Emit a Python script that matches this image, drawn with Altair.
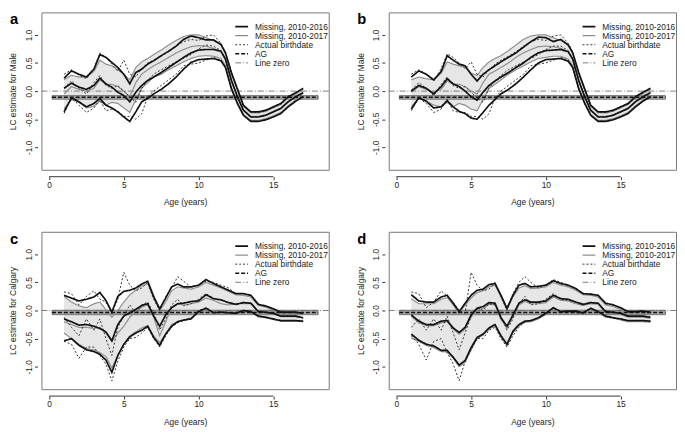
import altair as alt
import pandas as pd

SERIES = ["Missing, 2010-2016", "Missing, 2010-2017", "Actual birthdate", "AG", "Line zero"]
AG_X = [0.2, 18.0]

AGES_AB = [1, 1.5, 2, 2.5, 3, 3.4, 3.8, 4.2, 4.6, 5.0, 5.4, 5.8, 6.2, 6.6, 7, 7.5, 8, 8.5, 9, 9.5,
           10, 10.5, 11, 11.5, 11.8, 12.2, 12.6, 13, 13.5, 14, 14.5, 15, 15.5, 16, 16.5, 17]
AGES_CD = [1, 1.5, 2, 2.5, 3, 3.4, 3.8, 4.2, 4.6, 5.0, 5.4, 5.8, 6.2, 6.6, 7, 7.4, 7.8, 8.2, 8.6, 9,
           9.5, 10, 10.5, 11, 11.5, 12, 12.5, 13, 13.5, 14, 14.5, 15, 15.5, 16, 16.5, 17]

# ---- panel a (Male) ----
A_M16_HI = [0.23, 0.36, 0.30, 0.25, 0.39, 0.65, 0.60, 0.51, 0.42, 0.30, 0.13, 0.33, 0.39, 0.48, 0.54, 0.63, 0.71, 0.80, 0.92, 0.98,
            0.95, 0.91, 0.91, 0.83, 0.68, 0.33, 0.04, -0.25, -0.37, -0.37, -0.34, -0.28, -0.22, -0.10, -0.03, 0.05]
A_M16_MID = [0.05, 0.14, 0.07, 0.03, 0.10, 0.23, 0.13, 0.07, -0.02, -0.08, -0.19, -0.02, 0.10, 0.19, 0.25, 0.33, 0.42, 0.51, 0.60, 0.68,
             0.73, 0.74, 0.74, 0.71, 0.57, 0.19, -0.10, -0.34, -0.46, -0.46, -0.43, -0.37, -0.31, -0.19, -0.10, -0.03]
A_M16_LO = [-0.37, -0.12, -0.19, -0.28, -0.22, -0.13, -0.25, -0.30, -0.37, -0.46, -0.54, -0.37, -0.19, -0.13, -0.05, 0.03, 0.13, 0.25, 0.39, 0.51,
            0.56, 0.57, 0.58, 0.54, 0.42, 0.04, -0.22, -0.43, -0.54, -0.54, -0.51, -0.46, -0.40, -0.28, -0.18, -0.10]
A_M17_HI = [0.20, 0.28, 0.25, 0.25, 0.35, 0.55, 0.48, 0.45, 0.38, 0.30, 0.20, 0.42, 0.52, 0.58, 0.65, 0.73, 0.82, 0.90, 0.97, 1.00,
            1.00, 0.95, 0.90, 0.82, 0.68, 0.30, 0.02, -0.27, -0.39, -0.39, -0.36, -0.30, -0.24, -0.12, -0.05, 0.03]
A_M17_MID = [-0.05, 0.08, 0.03, 0.00, 0.05, 0.20, 0.12, 0.12, 0.08, 0.00, -0.10, 0.15, 0.30, 0.38, 0.45, 0.52, 0.60, 0.68, 0.74, 0.79,
             0.81, 0.80, 0.76, 0.70, 0.56, 0.18, -0.09, -0.33, -0.45, -0.45, -0.42, -0.36, -0.30, -0.18, -0.09, -0.02]
A_M17_LO = [-0.32, -0.15, -0.20, -0.30, -0.27, -0.18, -0.25, -0.20, -0.22, -0.30, -0.38, -0.15, 0.05, 0.15, 0.25, 0.30, 0.38, 0.45, 0.52, 0.58,
            0.62, 0.63, 0.62, 0.58, 0.45, 0.06, -0.20, -0.41, -0.52, -0.52, -0.49, -0.44, -0.38, -0.26, -0.16, -0.08]
A_AB_HI = [0.30, 0.38, 0.28, 0.22, 0.40, 0.68, 0.60, 0.48, 0.35, 0.55, 0.30, 0.25, 0.40, 0.50, 0.55, 0.62, 0.70, 0.80, 0.88, 0.92,
           0.90, 0.98, 1.00, 0.85, 0.70, 0.33, 0.03, -0.26, -0.37, -0.38, -0.35, -0.29, -0.23, -0.10, -0.03, 0.05]
A_AB_MID = [0.05, 0.18, 0.05, -0.05, 0.15, 0.28, 0.10, 0.05, 0.10, 0.00, -0.10, -0.20, 0.05, 0.20, 0.30, 0.38, 0.45, 0.52, 0.58, 0.65,
            0.75, 0.82, 0.80, 0.72, 0.56, 0.19, -0.10, -0.34, -0.46, -0.46, -0.43, -0.37, -0.31, -0.19, -0.10, -0.03]
A_AB_LO = [-0.40, -0.12, -0.25, -0.38, -0.30, -0.15, -0.35, -0.32, -0.35, -0.45, -0.45, -0.50, -0.40, -0.10, 0.00, 0.10, 0.20, 0.30, 0.45, 0.48,
           0.50, 0.55, 0.60, 0.55, 0.42, 0.04, -0.22, -0.43, -0.54, -0.54, -0.51, -0.46, -0.40, -0.28, -0.18, -0.10]
A_AG = [-0.11, -0.145, -0.08]

# ---- panel b (Male) ----
B_M16_HI = [0.25, 0.36, 0.30, 0.20, 0.35, 0.63, 0.55, 0.48, 0.45, 0.30, 0.18, 0.30, 0.38, 0.45, 0.52, 0.60, 0.68, 0.78, 0.88, 0.96,
            0.95, 0.88, 0.92, 0.82, 0.68, 0.33, 0.04, -0.25, -0.37, -0.37, -0.34, -0.28, -0.22, -0.10, -0.02, 0.05]
B_M16_MID = [0.00, 0.10, 0.05, -0.05, 0.08, 0.22, 0.13, 0.08, 0.00, -0.10, -0.16, -0.02, 0.10, 0.18, 0.25, 0.33, 0.42, 0.50, 0.60, 0.68,
             0.72, 0.73, 0.74, 0.70, 0.57, 0.19, -0.10, -0.34, -0.46, -0.46, -0.43, -0.37, -0.31, -0.19, -0.10, -0.03]
B_M16_LO = [-0.32, -0.12, -0.18, -0.30, -0.28, -0.17, -0.28, -0.36, -0.40, -0.48, -0.50, -0.38, -0.25, -0.15, -0.05, 0.03, 0.13, 0.25, 0.38, 0.50,
            0.56, 0.57, 0.58, 0.53, 0.42, 0.04, -0.22, -0.43, -0.54, -0.54, -0.51, -0.46, -0.40, -0.28, -0.18, -0.10]
B_M17_HI = [0.20, 0.25, 0.22, 0.20, 0.32, 0.52, 0.48, 0.45, 0.42, 0.32, 0.28, 0.42, 0.52, 0.58, 0.63, 0.72, 0.82, 0.92, 0.98, 1.00,
            1.00, 0.95, 0.90, 0.82, 0.68, 0.30, 0.02, -0.27, -0.39, -0.39, -0.36, -0.30, -0.24, -0.12, -0.05, 0.03]
B_M17_MID = [-0.02, 0.08, 0.03, -0.02, 0.03, 0.18, 0.12, 0.12, 0.08, 0.00, -0.05, 0.15, 0.30, 0.36, 0.42, 0.50, 0.60, 0.68, 0.74, 0.79,
             0.80, 0.79, 0.76, 0.70, 0.56, 0.18, -0.09, -0.33, -0.45, -0.45, -0.42, -0.36, -0.30, -0.18, -0.09, -0.02]
B_M17_LO = [-0.28, -0.12, -0.18, -0.25, -0.28, -0.20, -0.28, -0.22, -0.25, -0.32, -0.35, -0.15, 0.05, 0.12, 0.20, 0.30, 0.38, 0.45, 0.52, 0.58,
            0.60, 0.62, 0.62, 0.57, 0.45, 0.06, -0.20, -0.41, -0.52, -0.52, -0.49, -0.44, -0.38, -0.26, -0.16, -0.08]
B_AB_HI = [0.30, 0.38, 0.30, 0.18, 0.40, 0.66, 0.60, 0.50, 0.40, 0.52, 0.30, 0.25, 0.38, 0.48, 0.55, 0.62, 0.70, 0.80, 0.88, 0.92,
           0.90, 0.98, 1.00, 0.85, 0.70, 0.33, 0.03, -0.26, -0.37, -0.38, -0.35, -0.29, -0.23, -0.10, -0.03, 0.05]
B_AB_MID = [0.02, 0.15, 0.05, -0.08, 0.12, 0.25, 0.10, 0.05, 0.08, -0.02, -0.12, -0.20, 0.05, 0.18, 0.28, 0.38, 0.45, 0.52, 0.58, 0.65,
            0.74, 0.80, 0.80, 0.72, 0.56, 0.19, -0.10, -0.34, -0.46, -0.46, -0.43, -0.37, -0.31, -0.19, -0.10, -0.03]
B_AB_LO = [-0.35, -0.12, -0.22, -0.38, -0.32, -0.15, -0.35, -0.38, -0.38, -0.45, -0.45, -0.50, -0.40, -0.12, 0.00, 0.10, 0.20, 0.30, 0.45, 0.48,
           0.50, 0.55, 0.60, 0.55, 0.42, 0.04, -0.22, -0.43, -0.54, -0.54, -0.51, -0.46, -0.40, -0.28, -0.18, -0.10]
B_AG = [-0.11, -0.145, -0.08]

# ---- panel c (Calgary) ----
C_M16_HI = [0.27, 0.22, 0.17, 0.20, 0.24, 0.32, 0.18, -0.03, 0.25, 0.34, 0.36, 0.40, 0.47, 0.52, 0.25, 0.03, 0.22, 0.42, 0.47, 0.42,
            0.42, 0.45, 0.55, 0.48, 0.42, 0.36, 0.30, 0.30, 0.27, 0.11, 0.08, 0.03, -0.03, -0.03, -0.03, -0.05]
C_M16_MID = [-0.15, -0.20, -0.26, -0.25, -0.28, -0.32, -0.38, -0.54, -0.25, -0.10, -0.04, 0.02, 0.09, 0.12, -0.10, -0.28, -0.08, 0.05, 0.12, 0.13,
             0.16, 0.17, 0.28, 0.21, 0.19, 0.14, 0.11, 0.14, 0.13, -0.02, -0.03, -0.05, -0.10, -0.10, -0.10, -0.13]
C_M16_LO = [-0.54, -0.50, -0.62, -0.70, -0.73, -0.78, -0.88, -1.10, -0.80, -0.60, -0.47, -0.40, -0.35, -0.28, -0.48, -0.62, -0.42, -0.28, -0.20, -0.17,
            -0.15, -0.02, 0.04, -0.04, -0.03, -0.04, -0.05, 0.00, -0.02, -0.10, -0.12, -0.15, -0.18, -0.18, -0.18, -0.19]
C_M17_HI = [0.25, 0.15, 0.08, 0.05, 0.12, 0.15, 0.02, -0.12, 0.00, 0.15, 0.28, 0.36, 0.44, 0.48, 0.22, 0.00, 0.15, 0.35, 0.42, 0.40,
            0.38, 0.42, 0.50, 0.45, 0.40, 0.34, 0.28, 0.27, 0.24, 0.09, 0.06, 0.01, -0.05, -0.05, -0.05, -0.07]
C_M17_MID = [-0.20, -0.25, -0.30, -0.30, -0.32, -0.30, -0.40, -0.55, -0.40, -0.28, -0.12, -0.02, 0.06, 0.10, -0.12, -0.45, -0.20, 0.05, 0.12, 0.10,
             0.12, 0.15, 0.22, 0.18, 0.12, 0.10, 0.12, 0.12, 0.12, -0.03, -0.04, -0.06, -0.11, -0.11, -0.11, -0.13]
C_M17_LO = [-0.40, -0.50, -0.60, -0.68, -0.70, -0.75, -0.82, -1.02, -0.80, -0.60, -0.45, -0.38, -0.31, -0.27, -0.45, -0.57, -0.42, -0.25, -0.20, -0.17,
            -0.13, -0.03, 0.01, -0.04, -0.03, -0.03, -0.05, -0.02, -0.03, -0.11, -0.13, -0.16, -0.19, -0.19, -0.19, -0.20]
C_AB_HI = [0.33, 0.30, 0.10, 0.25, 0.35, 0.20, 0.15, -0.05, 0.20, 0.68, 0.45, 0.35, 0.40, 0.50, 0.20, 0.00, 0.25, 0.40, 0.60, 0.52,
           0.42, 0.45, 0.52, 0.50, 0.45, 0.40, 0.30, 0.30, 0.27, 0.10, 0.08, 0.03, -0.03, -0.03, -0.03, -0.05]
C_AB_MID = [-0.12, -0.30, -0.45, -0.15, -0.35, -0.15, -0.50, -0.80, -0.30, -0.10, 0.10, -0.05, 0.10, 0.15, -0.05, -0.35, -0.15, 0.10, 0.20, 0.08,
            0.12, 0.20, 0.30, 0.22, 0.18, 0.15, 0.10, 0.14, 0.13, -0.02, -0.03, -0.05, -0.10, -0.10, -0.10, -0.13]
C_AB_LO = [-0.55, -0.60, -0.85, -0.65, -0.65, -0.80, -0.95, -1.25, -0.90, -0.65, -0.50, -0.48, -0.40, -0.30, -0.50, -0.65, -0.45, -0.30, -0.22, -0.18,
           -0.15, 0.00, 0.05, -0.03, -0.03, -0.04, -0.05, 0.00, -0.02, -0.10, -0.12, -0.15, -0.18, -0.18, -0.18, -0.19]
C_AG = [-0.035, -0.075, 0.005]

# ---- panel d (Calgary) ----
D_M16_HI = [0.28, 0.17, 0.15, 0.15, 0.24, 0.27, 0.13, -0.02, 0.13, 0.27, 0.36, 0.38, 0.46, 0.48, 0.27, 0.04, 0.27, 0.45, 0.48, 0.42,
            0.43, 0.45, 0.53, 0.48, 0.45, 0.39, 0.30, 0.29, 0.27, 0.13, 0.10, 0.05, -0.02, -0.02, -0.01, -0.03]
D_M16_MID = [-0.08, -0.19, -0.25, -0.25, -0.19, -0.18, -0.31, -0.39, -0.30, -0.08, 0.04, 0.07, 0.14, 0.13, -0.13, -0.28, -0.08, 0.13, 0.19, 0.15,
             0.15, 0.17, 0.27, 0.21, 0.20, 0.15, 0.11, 0.14, 0.13, -0.02, -0.03, -0.05, -0.10, -0.10, -0.10, -0.12]
D_M16_LO = [-0.42, -0.53, -0.60, -0.63, -0.71, -0.71, -0.83, -0.97, -0.89, -0.66, -0.48, -0.42, -0.31, -0.25, -0.45, -0.60, -0.37, -0.25, -0.19, -0.18,
            -0.13, -0.05, 0.05, -0.02, -0.01, -0.01, -0.04, 0.04, -0.02, -0.10, -0.13, -0.15, -0.18, -0.18, -0.18, -0.19]
D_M17_HI = [0.21, 0.12, 0.12, 0.12, 0.20, 0.23, 0.10, -0.05, 0.10, 0.22, 0.32, 0.35, 0.42, 0.45, 0.24, 0.01, 0.24, 0.40, 0.44, 0.39,
            0.40, 0.42, 0.50, 0.45, 0.42, 0.36, 0.28, 0.27, 0.24, 0.10, 0.07, 0.02, -0.04, -0.04, -0.04, -0.06]
D_M17_MID = [-0.10, -0.22, -0.27, -0.27, -0.22, -0.20, -0.33, -0.42, -0.33, -0.12, 0.01, 0.04, 0.11, 0.10, -0.16, -0.31, -0.11, 0.10, 0.16, 0.12,
             0.12, 0.14, 0.24, 0.18, 0.17, 0.12, 0.09, 0.12, 0.11, -0.04, -0.05, -0.07, -0.12, -0.12, -0.12, -0.14]
D_M17_LO = [-0.49, -0.55, -0.62, -0.66, -0.73, -0.74, -0.85, -1.00, -0.92, -0.70, -0.50, -0.44, -0.33, -0.27, -0.47, -0.62, -0.40, -0.27, -0.21, -0.20,
            -0.15, -0.07, 0.03, -0.04, -0.04, -0.04, -0.07, 0.02, -0.04, -0.12, -0.13, -0.17, -0.20, -0.20, -0.20, -0.21]
D_AB_HI = [0.33, 0.30, 0.05, 0.15, 0.35, 0.25, 0.15, 0.00, -0.05, 0.68, 0.45, 0.35, 0.38, 0.50, 0.25, 0.00, 0.30, 0.50, 0.60, 0.50,
           0.40, 0.45, 0.55, 0.50, 0.45, 0.40, 0.30, 0.30, 0.27, 0.12, 0.10, 0.05, -0.02, -0.02, -0.02, -0.04]
D_AB_MID = [-0.30, -0.15, -0.35, -0.15, -0.35, -0.10, -0.40, -0.70, -0.40, -0.10, 0.05, 0.00, 0.12, 0.10, -0.10, -0.35, -0.15, 0.12, 0.25, 0.10,
            0.12, 0.20, 0.30, 0.20, 0.18, 0.15, 0.10, 0.14, 0.13, -0.02, -0.03, -0.05, -0.10, -0.10, -0.10, -0.12]
D_AB_LO = [-0.45, -0.60, -0.88, -0.55, -0.50, -0.75, -0.95, -1.25, -0.90, -0.70, -0.50, -0.50, -0.35, -0.30, -0.50, -0.65, -0.45, -0.30, -0.20, -0.18,
           -0.13, -0.04, 0.05, -0.02, -0.02, -0.03, -0.06, 0.03, -0.02, -0.10, -0.12, -0.15, -0.18, -0.18, -0.18, -0.19]
D_AG = [-0.035, -0.075, 0.005]

FONT = "Liberation Sans"
W, H = 292, 160
XDOM = [-0.51, 18.71]
YDOM = [-1.4, 1.4]

COLORS = ["#111111", "#8f8f8f", "#333333", "#111111", "#6f6f6f"]
DASHES = [[1, 0], [1, 0], [2, 2], [4, 2], [6, 2, 1, 2]]
WIDTHS = [1.7, 1.2, 1.0, 1.6, 0.9]


def panel(letter, ytitle, ages, m16, m17, ab, ag):
    rows = []
    for name, trip in [(SERIES[1], m17), (SERIES[2], ab), (SERIES[0], m16)]:
        for part, vals in zip(["hi", "mid", "lo"], trip):
            for a, v in zip(ages, vals):
                rows.append({"age": a, "value": v, "series": name, "key": name + part})
    lines = pd.DataFrame(rows)
    band = pd.DataFrame({"age": ages, "lo": m17[2], "hi": m17[0]})
    agline = pd.DataFrame({"age": AG_X, "value": [ag[0]] * 2, "series": ["AG"] * 2})
    agband = pd.DataFrame({"x0": [AG_X[0]], "x1": [AG_X[1]], "lo": [ag[1]], "hi": [ag[2]]})
    zero = pd.DataFrame({"value": [0.0], "series": ["Line zero"]})
    axline = pd.DataFrame({"x0": [0.0], "x1": [15.0]})
    lab = pd.DataFrame({"t": [letter]})

    xscale = alt.Scale(domain=XDOM, nice=False, zero=False)
    yscale = alt.Scale(domain=YDOM, nice=False, zero=False)
    xaxis = alt.Axis(values=[0, 5, 10, 15], domain=False, tickSize=3, offset=7, labelPadding=1,
                     titlePadding=9, labelFlush=False)
    yaxis = alt.Axis(values=[-1, -0.5, 0, 0.5, 1], domain=False, tickSize=3, offset=4, labelPadding=1,
                     labelAngle=-90, titlePadding=7,
                     labelExpr="replace(format(datum.value, '.1f'), '\u2212', '-')")
    X = lambda f: alt.X(f, type="quantitative", scale=xscale, axis=xaxis, title="Age (years)")
    Y = lambda f: alt.Y(f, type="quantitative", scale=yscale, axis=yaxis, title=ytitle)

    leg = alt.Legend(orient="none", legendX=196, legendY=10, title=None, symbolType="stroke",
                     symbolSize=169, labelFontSize=8.5, labelFont=FONT, labelColor="#222",
                     rowPadding=0.2, clipHeight=9, labelOffset=6, padding=0)
    color = alt.Color("series:N", scale=alt.Scale(domain=SERIES, range=COLORS), legend=leg)
    dash = alt.StrokeDash("series:N", scale=alt.Scale(domain=SERIES, range=DASHES), legend=leg)
    sw = alt.StrokeWidth("series:N", scale=alt.Scale(type="ordinal", domain=SERIES, range=WIDTHS), legend=leg)

    area = alt.Chart(band).mark_area(color="#e6e6e6", opacity=1).encode(x=X("age"), y=Y("lo"), y2="hi")
    agr = alt.Chart(agband).mark_rect(fill="#a8a8a8", stroke="#555555", strokeWidth=0.7).encode(
        x=X("x0"), x2="x1", y=Y("lo"), y2="hi")
    zr = alt.Chart(zero).mark_rule().encode(y=Y("value"), color=color, strokeDash=dash, strokeWidth=sw)
    ln = alt.Chart(lines).mark_line().encode(x=X("age"), y=Y("value"), color=color, strokeDash=dash,
                                             strokeWidth=sw, detail="key:N")
    agl = alt.Chart(agline).mark_line().encode(x=X("age"), y=Y("value"), color=color, strokeDash=dash,
                                               strokeWidth=sw)
    axl = alt.Chart(axline).mark_rule(color="#333", strokeWidth=1).encode(
        x=X("x0"), x2="x1", y=alt.value(H + 7))
    txt = alt.Chart(lab).mark_text(align="left", baseline="top", fontSize=15, fontWeight="bold",
                                   font=FONT, color="#000").encode(text="t:N", x=alt.value(-32), y=alt.value(0))
    return alt.layer(area, agr, zr, ln, agl, axl, txt).properties(width=W, height=H)


pa = panel("a", "LC estimate for Male", AGES_AB,
           [A_M16_HI, A_M16_MID, A_M16_LO], [A_M17_HI, A_M17_MID, A_M17_LO], [A_AB_HI, A_AB_MID, A_AB_LO], A_AG)
pb = panel("b", "LC estimate for Male", AGES_AB,
           [B_M16_HI, B_M16_MID, B_M16_LO], [B_M17_HI, B_M17_MID, B_M17_LO], [B_AB_HI, B_AB_MID, B_AB_LO], B_AG)
pc = panel("c", "LC estimate for Calgary", AGES_CD,
           [C_M16_HI, C_M16_MID, C_M16_LO], [C_M17_HI, C_M17_MID, C_M17_LO], [C_AB_HI, C_AB_MID, C_AB_LO], C_AG)
pd_ = panel("d", "LC estimate for Calgary", AGES_CD,
            [D_M16_HI, D_M16_MID, D_M16_LO], [D_M17_HI, D_M17_MID, D_M17_LO], [D_AB_HI, D_AB_MID, D_AB_LO], D_AG)

chart = alt.concat(pa, pb, pc, pd_, columns=2, spacing={"row": 24, "column": 26}).resolve_scale(
    color="independent", strokeDash="independent", strokeWidth="independent"
).resolve_legend(
    color="independent", strokeDash="independent", strokeWidth="independent"
).properties(padding=0).configure_view(stroke="#777", strokeWidth=1).configure_axis(
    labelFont=FONT, titleFont=FONT, labelFontSize=8.5, titleFontSize=8.5, titleFontWeight="normal",
    labelColor="#222", titleColor="#222", tickColor="#333", grid=False
)

chart.save("out.html", embed_options={"renderer": "svg", "actions": False})
